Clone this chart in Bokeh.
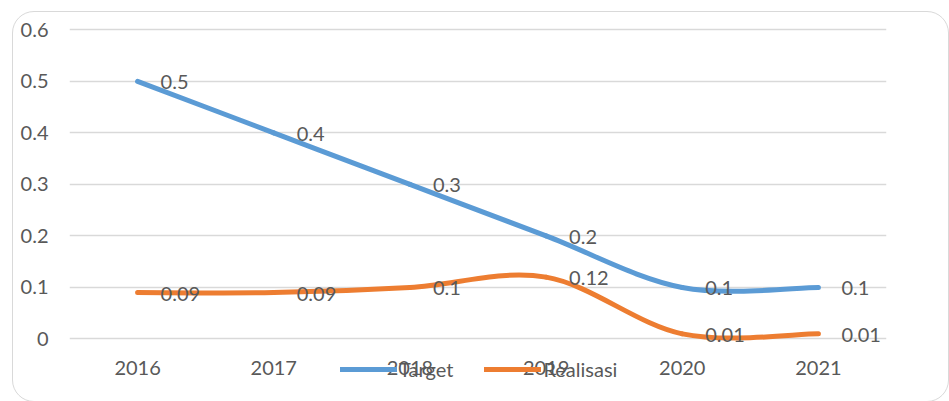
from bokeh.plotting import figure
from bokeh.models import (FactorRange, Range1d, FixedTicker, Legend, LegendItem, ColumnDataSource,
                          CustomJSTickFormatter)
from bokeh.core.properties import value
from bokeh.embed import file_html
from bokeh.resources import INLINE

years = ["2016", "2017", "2018", "2019", "2020", "2021"]
target = [0.5, 0.4, 0.3, 0.2, 0.1, 0.1]
realisasi = [0.09, 0.09, 0.1, 0.12, 0.01, 0.01]
target_labels = ["0.5", "0.4", "0.3", "0.2", "0.1", "0.1"]
realisasi_labels = ["0.09", "0.09", "0.1", "0.12", "0.01", "0.01"]
y_ticks = [0, 0.1, 0.2, 0.3, 0.4, 0.5, 0.6]

BLUE = "#5B9BD5"
ORANGE = "#ED7D31"
TEXT = "#595959"
GRID = "#D9D9D9"
FONT = "Lato"
FS = "20px"

p = figure(width=936, height=390, x_range=FactorRange(*years), y_range=Range1d(-0.1116, 0.62),
           output_backend="svg", toolbar_location=None,
           min_border_left=57, min_border_right=62, min_border_top=8, min_border_bottom=5)
p.margin = (11, 0, 0, 12)
p.outline_line_color = None
p.background_fill_color = "white"
p.border_fill_color = "white"

p.yaxis.ticker = FixedTicker(ticks=y_ticks)
p.ygrid.ticker = FixedTicker(ticks=y_ticks)
p.ygrid.grid_line_color = GRID
p.ygrid.grid_line_width = 1.5
p.xgrid.grid_line_color = None
for ax in (p.xaxis, p.yaxis):
    ax.axis_line_color = None
    ax.major_tick_line_color = None
    ax.minor_tick_line_color = None
    ax.major_tick_out = 0
    ax.major_tick_in = 0
    ax.major_label_text_color = TEXT
    ax.major_label_text_font = FONT
    ax.major_label_text_font_size = FS
p.yaxis.major_label_standoff = 21
p.xaxis.fixed_location = 0
p.xaxis.major_label_standoff = 22
p.yaxis.formatter = CustomJSTickFormatter(code="return tick == 0 ? '0' : tick.toFixed(1);")


def smooth(vals):
    n = len(vals)
    xs = [i + 0.5 for i in range(n)]
    x0, y0, x1, y1, cx0, cy0, cx1, cy1 = ([] for _ in range(8))
    for i in range(n - 1):
        pm = max(i - 1, 0)
        pp = min(i + 2, n - 1)
        x0.append(xs[i]); y0.append(vals[i])
        x1.append(xs[i + 1]); y1.append(vals[i + 1])
        cx0.append(xs[i] + (xs[i + 1] - xs[pm]) / 6)
        cy0.append(vals[i] + (vals[i + 1] - vals[pm]) / 6)
        cx1.append(xs[i + 1] - (xs[pp] - xs[i]) / 6)
        cy1.append(vals[i + 1] - (vals[pp] - vals[i]) / 6)
    return ColumnDataSource(dict(x0=x0, y0=y0, x1=x1, y1=y1, cx0=cx0, cy0=cy0, cx1=cx1, cy1=cy1))


r_t = p.bezier(x0="x0", y0="y0", x1="x1", y1="y1", cx0="cx0", cy0="cy0", cx1="cx1", cy1="cy1",
               source=smooth(target), line_color=BLUE, line_width=5, line_cap="round")
r_r = p.bezier(x0="x0", y0="y0", x1="x1", y1="y1", cx0="cx0", cy0="cy0", cx1="cx1", cy1="cy1",
               source=smooth(realisasi), line_color=ORANGE, line_width=5, line_cap="round")

p.text(x=years, y=target, text=target_labels, x_offset=23, y_offset=1,
       text_font=value(FONT), text_font_size=FS, text_color=TEXT,
       text_align="left", text_baseline="middle")
p.text(x=years, y=realisasi, text=realisasi_labels, x_offset=23, y_offset=1,
       text_font=value(FONT), text_font_size=FS, text_color=TEXT,
       text_align="left", text_baseline="middle")

legend = Legend(items=[LegendItem(label="Target", renderers=[r_t]),
                       LegendItem(label="Realisasi", renderers=[r_r])],
                orientation="horizontal", location=(271, 15),
                glyph_width=57, glyph_height=20, label_standoff=2, spacing=31,
                padding=0, margin=0, border_line_color=None, background_fill_alpha=0,
                label_text_font=FONT, label_text_font_size=FS, label_text_color=TEXT)
p.add_layout(legend, "center")

html = file_html(p, INLINE)
frame_div = ('<div style="position:absolute;left:12px;top:11px;width:937px;height:391px;'
             'border:1.5px solid #D9D9D9;border-radius:22px;box-sizing:border-box;'
             'pointer-events:none;"></div>')
html = html.replace("</body>", frame_div + "</body>")
open("out.html", "w").write(html)
